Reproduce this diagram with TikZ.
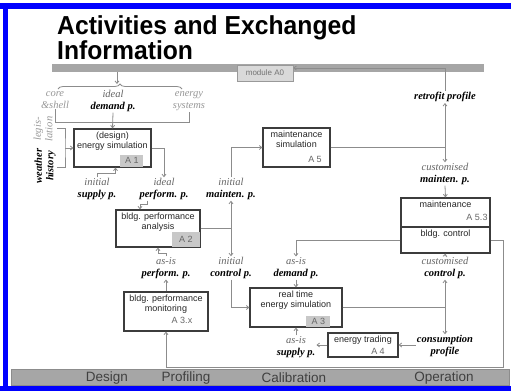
\documentclass[tikz,border=0pt]{standalone}
\usepackage{fontspec}
\setmainfont{Liberation Serif}
\setsansfont{Liberation Sans}
\newfontfamily\headfont[FakeStretch=0.95]{Liberation Sans}
\usetikzlibrary{arrows.meta,decorations.pathreplacing,positioning}

\definecolor{frameblue}{RGB}{0,0,255}
\definecolor{bargray}{RGB}{166,166,166}
\definecolor{linegray}{RGB}{140,140,140}
\definecolor{boxline}{RGB}{60,60,60}
\definecolor{taggray}{RGB}{200,200,200}
\definecolor{labgray}{RGB}{100,100,100}
\definecolor{softgray}{RGB}{150,150,150}

% two-line flow label: plain first line, bold second line
\newcommand{\infolab}[2]{{\color{labgray}#1}\\{\bfseries #2}}

\begin{document}
\begin{tikzpicture}[x=1pt, y=-1pt,
    box/.style={draw=boxline, line width=1.2pt, fill=white, inner sep=0pt},
    boxtext/.style={font=\sffamily\fontsize{9}{10.5}\selectfont, align=center, text=black!85, inner sep=1pt},
    tag/.style={font=\sffamily\fontsize{9}{10}\selectfont, text=black!60, inner sep=0pt},
    patch/.style={tag, fill=taggray},
    lab/.style={font=\itshape\fontsize{10.5}{11.5}\selectfont, align=center, inner sep=1pt},
    labb/.style={font=\itshape\bfseries\fontsize{10.5}{11.5}\selectfont, align=center, inner sep=1pt},
    conn/.style={draw=linegray, line width=0.8pt},
    arr/.style={conn, -{Straight Barb[length=2.5pt,width=4pt]}},
    phase/.style={font=\sffamily\fontsize{13.5}{14}\selectfont, text=black!75},
    head/.style={font=\headfont\bfseries\fontsize{26}{23}\selectfont, inner sep=0pt, align=left}]

    \useasboundingbox (0,0) rectangle (511,391);

    % frame and bands
    \fill[frameblue] (0,3) rectangle (511,9);
    \fill[frameblue] (3,3) rectangle (8,391);
    \fill[frameblue] (0,386) rectangle (511,391);
    \fill[bargray] (52,64) rectangle (484,72);
    \filldraw[fill=bargray, draw=black!45] (11,369) rectangle (509,385);

    % title
    \node[head, anchor=north west] (ttl) at (57,15.5) {Activities and Exchanged\\Information};

    % phases
    \node[phase] (ph1) at (107,378) {Design};
    \node[phase] (ph2) at (186,378) {Profiling};
    \node[phase] (ph3) at (294,378) {Calibration};
    \node[phase] (ph4) at (444,378) {Operation};

    \node[draw=black!40, fill=black!15, minimum width=56pt, minimum height=16pt,
          font=\sffamily\fontsize{8}{9}\selectfont, text=black!55] (modA0) at (265,73) {module A0};

    % activity boxes
    \node[box, minimum width=77pt, minimum height=38pt] (A1) at (112.5,148) {};
    \node[box, minimum width=84pt, minimum height=37pt] (A2) at (158,228.5) {};
    \node[box, minimum width=84pt, minimum height=39pt] (A3x) at (166,311.5) {};
    \node[box, minimum width=67pt, minimum height=39pt] (A5) at (296.5,147.5) {};
    \node[box, minimum width=89pt, minimum height=29pt] (A53) at (445.5,212.5) {};
    \node[box, minimum width=89pt, minimum height=26pt] (ctrl) at (445.5,240) {};
    \node[box, minimum width=92pt, minimum height=39pt] (A3) at (296,307.5) {};
    \node[box, minimum width=70pt, minimum height=24pt] (A4) at (363,345) {};

    \node[boxtext, below=2pt of A1.north] {(design)\\energy simulation};
    \node[boxtext, below=2pt of A2.north] {bldg. performance\\analysis};
    \node[boxtext, below=2pt of A3x.north] {bldg. performance\\monitoring};
    \node[boxtext, below=2pt of A5.north] {maintenance\\simulation};
    \node[boxtext, below=2pt of A53.north] {maintenance};
    \node[boxtext, below=2pt of ctrl.north] {bldg. control};
    \node[boxtext, below=2pt of A3.north] {real time\\energy simulation};
    \node[boxtext, below=2pt of A4.north] {energy trading};

    \node[patch, minimum width=23pt, minimum height=12pt, anchor=south east] at ([xshift=-8pt,yshift=0.6pt]A1.south east) {A 1};
    \node[patch, minimum width=28pt, minimum height=15pt, anchor=south east] at ([xshift=-0.6pt,yshift=0.6pt]A2.south east) {A 2};
    \node[patch, minimum width=24pt, minimum height=11pt, anchor=south east] at ([xshift=-12pt,yshift=0.6pt]A3.south east) {A 3};
    \node[tag] at (182,320) {A 3.x};
    \node[tag] at (315,159) {A 5};
    \node[tag] at (477,217) {A 5.3};
    \node[tag] at (378,351) {A 4};

    % exchanged information
    \node[lab, text=softgray] (coreshell) at (55,100) {core\\\&shell};
    \node[lab] (demandI) at (113,101) {\infolab{ideal}{demand p.}};
    \node[lab, text=softgray] (esys) at (189,101) {energy\\systems};
    \node[lab, rotate=90, text=softgray] (legis) at (43,129) {legis-\\lation};
    \node[labb, rotate=90] (weather) at (45,166) {weather\\history};
    \node[lab] (supplyI) at (97,189) {\infolab{initial}{supply p.}};
    \node[lab] (perfI) at (164,189) {\infolab{ideal}{perform. p.}};
    \node[lab] (maintI) at (231,189) {\infolab{initial}{mainten. p.}};
    \node[labb] (retro) at (445,97) {retrofit profile};
    \node[lab] (custM) at (445,174) {\infolab{customised}{mainten. p.}};
    \node[lab] (perfA) at (166,268) {\infolab{as-is}{perform. p.}};
    \node[lab] (ctrlI) at (231,268) {\infolab{initial}{control p.}};
    \node[lab] (demandA) at (296,268) {\infolab{as-is}{demand p.}};
    \node[lab] (custC) at (445,268) {\infolab{customised}{control p.}};
    \node[lab] (supplyA) at (296,347) {\infolab{as-is}{supply p.}};
    \node[labb] (consP) at (445,346) {consumption\\profile};

    % inputs of A1
    \draw[conn, decorate, decoration={brace, amplitude=5pt}] (58,89) -- (182,89);
    \draw[arr] (117,72) -- (117,84);
    \coordinate (inA) at (113,122);
    \draw[conn] (coreshell.south) -- (coreshell.south |- inA) -- (esys.south |- inA) -- (esys.south);
    \draw[arr] (demandI.south) -- (A1.north);
    \coordinate (brk) at (65,148);
    \draw[conn] (57,128) -| (brk) |- (57,167);
    \draw[arr] (brk) -- (A1.west);
    \draw[arr] (supplyI.north) -- ++(0,-4) -| ([xshift=3pt]A1.south);
    \draw[arr] (A1.east) -| (perfI.north);

    % analysis and maintenance
    \draw[arr] ([xshift=-17pt]perfI.south) -- ++(0,4) -| ([xshift=-18pt]A2.north);
    \draw[arr] (A2.east) -| (maintI.south);
    \draw[arr] (A2.east) -| (ctrlI.north);
    \draw[arr] (maintI.north) |- (A5.west);
    \draw[arr] (A5.east) -| (retro.south);
    \draw[arr] (A5.east) -| (custM.north);
    \draw[arr] (retro.north) |- ([yshift=5pt]modA0.east);
    \draw[arr] (custM.south) -- (A53.north);

    % control loop
    \draw[arr] (ctrl.west) -| (demandA.north);
    \coordinate (fbk) at (503,367);
    \draw[arr] (ctrl.east) -| (fbk) -| (A3x.south);
    \draw[arr] (custC.north) -- (ctrl.south);
    \draw[arr] (A3.east) -| (custC.south);
    \draw[arr] (A3.east) -| (consP.north);
    \draw[arr] (demandA.south) -- (A3.north);
    \draw[arr] (ctrlI.south) |- (A3.west);
    \draw[arr] (supplyA.north) -- (A3.south);
    \draw[arr] (A4.west) -- (A4.west -| supplyA.east);
    \draw[arr] (consP.west |- A4.east) -- (A4.east);
    \draw[arr] (A3x.north) -- (perfA.south);
    \draw[arr] (perfA.north) -- ++(0,-3) -| (A2.south);
\end{tikzpicture}
\end{document}
